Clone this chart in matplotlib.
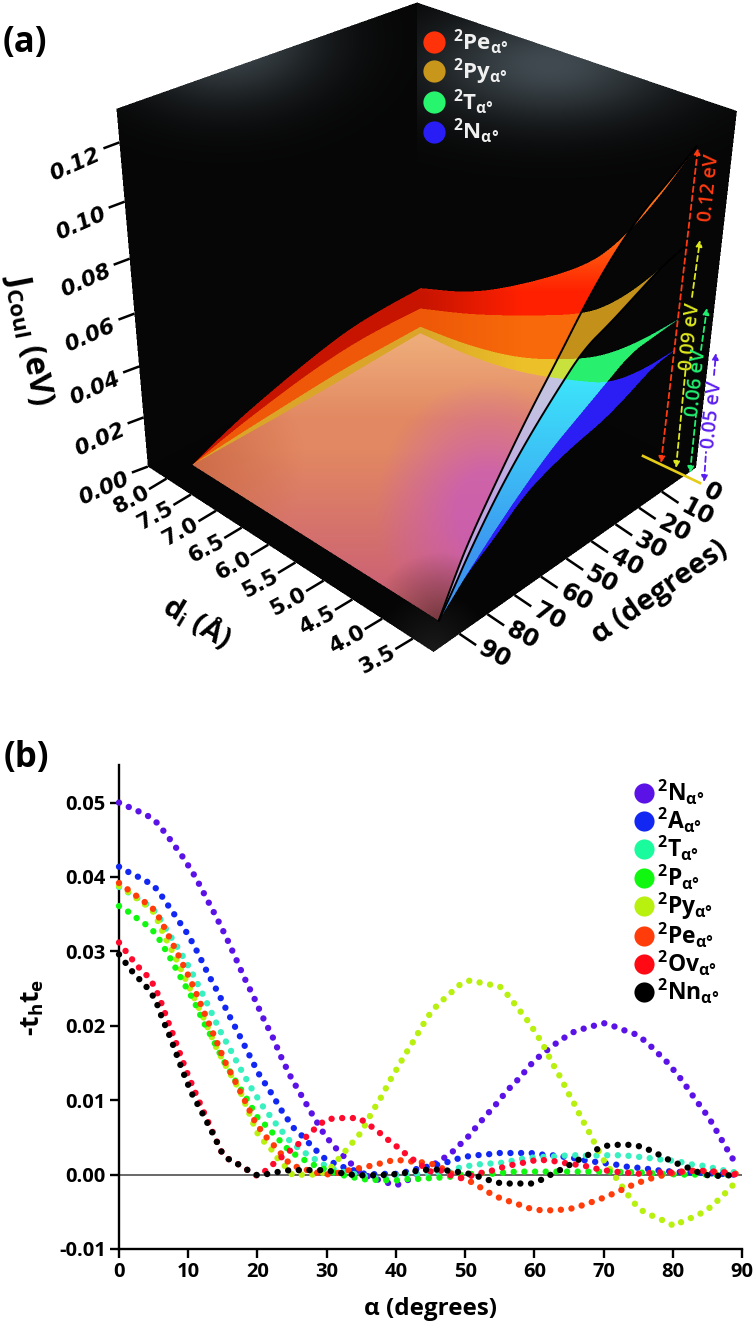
import numpy as np
import matplotlib
matplotlib.use("Agg")
import matplotlib.pyplot as plt
from matplotlib.lines import Line2D
from matplotlib.path import Path

plt.rcParams["font.family"] = ["Open Sans", "DejaVu Sans"]
plt.rcParams["mathtext.fontset"] = "custom"
plt.rcParams["mathtext.rm"] = "Open Sans"
plt.rcParams["mathtext.bf"] = "Open Sans:bold"
plt.rcParams["mathtext.it"] = "Open Sans:italic"
plt.rcParams["mathtext.fallback"] = "stixsans"

W, H = 756, 1323

# panel (a): J_Coul surface edges, eV
a_d8 = [90, 75, 60, 45, 30, 15, 0]
pe_d8 = [0, .0075, .013, .018, .022, .0235, .024]
py_d8 = [0, .005, .009, .0125, .0148, .0155, .0152]
t_d8 = [0, .002, .0036, .0052, .0065, .0068, .0072]
n_d8 = [0, .0005, .001, .0018, .0025, .0035, .0044]

d_a0 = [8, 7, 6, 5, 4.5, 4, 3.5]
pe_a0 = [.024, .032, .046, .063, .077, .096, .119]
py_a0 = [.0152, .023, .033, .044, .054, .068, .085]
t_a0 = [.0072, .0095, .015, .026, .034, .045, .058]
n_a0 = [.0044, .005, .009, .017, .022, .0326, .0465]

a_d35 = [0, 10, 20, 30, 40, 50, 60, 70, 80, 85, 90]
pe_d35 = [.119, .112, .106, .097, .085, .070, .056, .040, .023, .012, 0]
py_d35 = [.085, .082, .077, .072, .068, .058, .047, .034, .018, .0085, 0]
t_d35 = [.058, .057, .056, .050, .044, .038, .030, .021, .011, .0055, 0]
n_d35 = [.0465, .045, .040, .036, .034, .031, .0267, .018, .011, .0055, 0]

j_ticks = [0.00, 0.02, 0.04, 0.06, 0.08, 0.10, 0.12]
d_ticks = [8.0, 7.5, 7.0, 6.5, 6.0, 5.5, 5.0, 4.5, 4.0, 3.5]
a_ticks = [0, 10, 20, 30, 40, 50, 60, 70, 80, 90]

# panel (b): -t_h t_e against alpha
b_names = ["N", "A", "T", "P", "Py", "Pe", "Ov", "Nn"]
b_colors = ["#5a12e6", "#1228f2", "#38f0c0", "#10f810", "#b8f010", "#ff3c0a", "#ff0a2c", "#000000"]

n_x = [0, 3, 4.4, 5.6, 7.5, 9.4, 11.1, 12.6, 14.1, 15.5, 16.8, 18.1, 19.5, 20.8, 22.2, 23.5, 24.9, 26.5, 28.1, 29.8, 31.8, 33, 34, 35.3, 38.7, 40.1, 41.6, 44, 46.9, 48.2, 49.4, 50.6, 51.6, 52.6, 53.7, 54.8, 55.8, 56.9, 58, 59, 60.1, 61.4, 62.7, 64, 65.5, 67, 68.5, 70.1, 71.6, 73.1, 74.6, 75.8, 77, 78.2, 79.3, 81.4, 83.2, 85.2, 86.8, 88.4, 89.3]
n_y = [.05, .04875, .0481, .0472, .0449, .04245, .0399, .0372, .03455, .0319, .0292, .02647, .0238, .0211, .01848, .01565, .01296, .0104, .0078, .0052, .00305, .002, .001, 0, -.00108, -.00143, -.0008, .0005, .0022, .0031, .00417, .00525, .0064, .0075, .00865, .0098, .011, .0121, .0131, .0143, .0154, .0164, .01735, .0182, .0191, .01958, .01998, .02034, .0199, .01936, .01887, .0181, .0171, .016, .015, .0126, .0102, .00767, .0051, .0025, .00125]

a_x = [0, 1.5, 2.9, 4.3, 5.5, 6.4, 7.3, 8.2, 9.1, 10, 11.5, 12.9, 14.4, 15.8, 17.3, 18.7, 20.1, 21.9, 23.5, 25.2, 26.4, 27.5, 28.6, 29.8, 31.3, 32.7, 34.2, 35.8, 37.5, 39, 40.5, 42.3, 43.7, 45.3, 46.9, 48.4, 50, 51.6, 53.1, 54.7, 56.3, 57.9, 59.5, 61, 62.6, 64.2, 65.8, 67.4, 68.9, 70.5, 72.1, 73.7, 75.3, 76.9, 78.5, 80.2, 81.8, 85, 86.8, 89]
a_y = [.04138, .0406, .03996, .03924, .03835, .03714, .0359, .03469, .03344, .03223, .0296, .0269, .02429, .0216, .0189, .0163, .01368, .0111, .0086, .0063, .00525, .00417, .00314, .0021, .00143, .0009, .0005, 0, .0001, .0001, .0001, .0006, .0009, .0012, .0015, .002, .0024, .0026, .0027, .0029, .0029, .0029, .0029, .0027, .0026, .0024, .0022, .0019, .0017, .0015, .0013, .001, .0009, .0007, .0005, .0004, .0003, .0002, .0001, 0]

t_x = [0, 1.4, 2.8, 4.1, 5.4, 7, 8.7, 10.3, 11.7, 13.1, 14.5, 16, 17.5, 19.1, 20.8, 22.7, 24.7, 26, 27.3, 28.7, 30, 31.5, 33.1, 34.6, 36, 37.5, 38.9, 40.3, 44, 48, 49.3, 50.7, 52.2, 53.8, 55.4, 57, 58.6, 60, 61.7, 63.3, 64.9, 66.5, 68, 69.6, 71.2, 72.8, 74.4, 76, 77.5, 80.7, 82.4, 84, 85.6, 87.2, 89]
t_y = [.03866, .0379, .0371, .03625, .0352, .0327, .0302, .0276, .025, .0223, .0195, .01695, .0143, .01166, .00915, .0068, .0045, .0035, .00265, .00184, .0011, .0006, .0002, 0, -.0003, -.0005, -.0005, 0, .0001, .0004, .001, .0012, .0014, .0015, .0016, .0019, .0022, .0023, .0024, .00245, .0026, .0026, .0025, .0026, .0026, .0026, .00245, .0023, .0021, .0018, .0014, .00125, .00094, .0006, .0003]

p_x = [0, 1.4, 2.7, 4, 5.2, 6.1, 7.7, 9.2, 10.8, 12.1, 13.6, 15.1, 16.8, 18.4, 20, 21.2, 22.3, 23.4, 24.5, 25.9, 27.3, 28.8, 30.2, 31.9, 33.5, 35, 36.6, 39.9, 41.5, 43, 44.6, 46.3, 47.8, 49.4, 52.6, 54.2, 55.8, 57.4, 59, 62.2, 65.4, 70.2, 74.9, 78.1, 81.3, 86, 89]
p_y = [.0361, .0353, .03438, .03353, .0325, .0312, .0286, .026, .0234, .0207, .0181, .0153, .01265, .01027, .0077, .0066, .0055, .0044, .0033, .0024, .0017, .001, .0006, 0, -.0003, -.0006, -.0007, -.0008, -.0006, -.0006, -.0005, -.0004, -.0003, 0, .0002, .0001, .0003, .0004, .0004, .0004, .0004, .0004, .0003, .0001, 0, 0, 0]

py_x = [0, 1.3, 2.6, 3.9, 5.1, 6.5, 8, 9.5, 11, 12.5, 14, 15.5, 17.5, 18.7, 19.9, 20.9, 22, 22.9, 24, 25.1, 26.6, 28.2, 29.8, 30.9, 31.9, 33, 34, 35, 36.5, 37.4, 38.2, 38.9, 39.7, 40.5, 41.3, 42.2, 43, 43.8, 44.6, 45.5, 46.7, 47.9, 49, 50.7, 52.2, 53.8, 55, 56.1, 57.1, 58.1, 59.1, 60.1, 60.9, 61.7, 62.4, 63.2, 64, 64.7, 65.5, 66.2, 66.9, 67.7, 68.4, 69.1, 69.9, 70.8, 71.7, 72.6, 73.5, 74.5, 75.8, 77.2, 78.7, 80.2, 81.6, 83, 84.5, 85.7, 86.8, 88, 89.1]
py_y = [.0388, .038, .0371, .0362, .0352, .0322, .0295, .0265, .0235, .0205, .0172, .0145, .0112, .0085, .0057, .0045, .0034, .0022, .0011, -.0001, 0, 0, .0003, .0012, .0023, .0035, .0046, .0057, .0083, .0097, .0109, .0123, .0135, .0148, .0161, .0174, .0187, .01996, .0212, .0223, .0234, .0244, .0254, .0261, .0258, .0255, .0253, .0242, .023, .0218, .0206, .0192, .018, .0167, .0153, .014, .0127, .0113, .01, .0087, .0074, .0061, .0048, .0035, .0021, .0009, -.0003, -.0015, -.0027, -.0039, -.005, -.0056, -.0062, -.0069, -.0062, -.0057, -.005, -.0042, -.0032, -.0021, -.001]

pe_x = [0, 1.3, 2.6, 3.9, 5.2, 6, 7.5, 8.9, 10.3, 11.6, 12.8, 14.1, 15.3, 16.8, 18.2, 19.6, 20.4, 21.4, 22.5, 23.6, 24.6, 26.1, 27.7, 29.2, 30.7, 32.3, 33.8, 35.4, 37, 38.5, 40, 41.7, 43.3, 45, 46.4, 47.9, 49.4, 50.7, 52, 53.4, 54.9, 56.4, 58, 59.5, 61, 62.6, 64.2, 65.8, 67.3, 68.9, 70.3, 71.8, 73.2, 74.7, 76.2, 77.7, 79.4, 80.9, 82.5, 84.1, 85.7, 87.3, 89.2]
pe_y = [.0392, .0383, .0374, .0365, .0355, .0342, .0315, .0289, .0262, .0234, .0207, .0179, .0152, .0125, .0099, .0072, .0061, .0049, .0038, .0026, .0015, .00085, .0005, .0001, 0, .0004, .0007, .001, .0013, .0017, .002, .0018, .0017, .0015, .001, .0002, -.0004, -.0009, -.0016, -.0024, -.0031, -.0036, -.0041, -.0046, -.0048, -.0048, -.0047, -.0045, -.004, -.0035, -.003, -.0024, -.0018, -.0012, -.0007, -.0003, .0001, .0003, .0005, .0005, .0004, .0003, .0001]

ov_x = [0, 1, 2, 3, 4.2, 5.2, 5.8, 6.4, 6.9, 7.5, 8.6, 9.7, 10.9, 12.2, 13.5, 14.8, 15.8, 17.2, 18.6, 20, 21.3, 22.5, 23.7, 25.1, 26.3, 27.5, 28.7, 29.9, 31.5, 33.1, 34.7, 35.9, 37.2, 38.4, 39.7, 41, 42.2, 43.5, 44.8, 46.4, 47.9, 49.5, 51.1, 52.6, 54.2, 55.8, 57.3, 59, 60.5, 62.1, 63.7, 65.2, 66.8, 68.4, 70, 71.5, 73, 74.7, 76.3, 77.9, 79.5, 81.1, 82.7, 84.2, 86, 87.5, 89]
ov_y = [.0312, .03, .0288, .0277, .0266, .0252, .0238, .0224, .021, .0196, .0168, .014, .0113, .0085, .0058, .0031, .0021, .0014, .0006, -.0002, .0006, .0016, .0025, .0035, .0044, .0055, .0065, .0074, .0076, .0076, .0076, .0068, .006, .005, .0041, .0031, .0022, .0014, .0004, .0006, -.0001, -.0005, -.0001, .0003, .0006, .0011, .0014, .0017, .002, .0019, .0017, .0014, .0013, .0009, .0006, .0004, .0003, .0001, .0002, .0003, .0003, .0004, .0005, .0005, .0004, .0003, 0]

nn_x = [0, 1, 2, 3.1, 4.2, 5.2, 5.8, 6.3, 7, 8.1, 9.2, 10.4, 11.9, 13.4, 14.8, 15.8, 17.2, 18.6, 20, 21.6, 23.2, 24.7, 26.4, 27.9, 29.5, 31.1, 32.7, 34.3, 35.9, 37.5, 39, 40.6, 42.3, 43.8, 45.4, 47, 48.6, 50.2, 51.7, 53.3, 54.8, 56.4, 58, 59.6, 61, 62.4, 63.9, 65.3, 66.6, 68.1, 69.4, 71, 72.6, 74.2, 75.7, 77.1, 78.6, 80, 81.5, 83, 84.4, 86, 87.6, 89.2]
nn_y = [.0296, .0284, .0272, .0261, .025, .0236, .0222, .0208, .0194, .0167, .0139, .0111, .0085, .0058, .0031, .0021, .0014, .0006, -.0001, .0001, .0004, .0006, .0006, .0006, .0006, .0004, .0001, -.0001, -.0001, -.0001, 0, .0001, .0004, .0006, .0007, .0006, .0004, .0002, -.0002, -.0007, -.0011, -.0012, -.0012, -.0012, -.0007, 0, .0007, .0014, .0021, .0028, .0036, .004, .004, .004, .0037, .0031, .0024, .0017, .0012, .0006, 0, -.0002, -.0001, -.0001]

b_series = [(n_x, n_y), (a_x, a_y), (t_x, t_y), (p_x, p_y), (py_x, py_y), (pe_x, pe_y), (ov_x, ov_y), (nn_x, nn_y)]
b_order = [0, 1, 2, 4, 3, 5, 6, 7]

# box geometry of the (a) panel: world (d, alpha, J) -> picture pixels
D_L, D_F, A_F, A_R, J_T = 8.39, 3.17, 99.0, -5.5, 0.131
calib = [(D_L, A_F, J_T, 116.7, 110), (D_F, A_R, J_T, 737.3, 110.7), (D_L, A_R, J_T, 416.7, 2.7),
         (D_F, A_F, 0, 433.3, 650), (D_L, A_F, 0, 148, 464), (D_F, A_R, 0, 697, 468)]
calib += [(d, A_F, 0, x, y) for d, x, y in zip(d_ticks, [166.7, 190.7, 216, 241.7, 268.3, 295, 323.3, 352.3, 382.3, 412.7],
                                               [479, 495, 511, 528, 545.7, 563.3, 581.7, 600.7, 620, 640])]
calib += [(D_F, a, 0, x, y) for a, x, y in zip(a_ticks[1:], [661.7, 638.3, 615, 590, 566.7, 541.7, 515, 488.3, 459.3],
                                               [491.7, 508.3, 524.3, 541.7, 558.3, 575, 594, 613.3, 632.7])]
calib += [(D_L, A_F, j, x, y) for j, x, y in zip(j_ticks[1:], [144.3, 139.3, 134.3, 129.3, 125, 119],
                                                 [416.7, 366.7, 314, 258, 201, 142])]
rows, rhs = [], []
for d, a, j, x, y in calib:
    v = [d, a / 10, j * 50, 1]
    rows.append(v + [0, 0, 0, 0] + [-x * c for c in v[:3]])
    rows.append([0, 0, 0, 0] + v + [-y * c for c in v[:3]])
    rhs += [x, y]
cam = np.linalg.lstsq(np.array(rows), np.array(rhs), rcond=None)[0]
cam = np.append(cam, 1).reshape(3, 4)


def proj(d, a, j):
    d, a, j = np.broadcast_arrays(np.asarray(d, float), np.asarray(a, float), np.asarray(j, float))
    v = np.stack([d, a / 10, j * 50, np.ones_like(d)])
    u = cam @ v.reshape(4, -1)
    return u[0] / u[2], u[1] / u[2]


def chaikin(x, y, n=3):
    p = np.column_stack([x, y])
    for _ in range(n):
        q = 0.75 * p[:-1] + 0.25 * p[1:]
        r = 0.25 * p[:-1] + 0.75 * p[1:]
        m = np.empty((2 * len(q), 2))
        m[0::2], m[1::2] = q, r
        p = np.vstack([p[:1], m, p[-1:]])
    return p


def outline(d8, a0, d35):
    e1 = chaikin(*proj(8, a_d8, d8))
    e2 = chaikin(*proj(d_a0, 0, a0))
    e3 = chaikin(*proj(3.5, a_d35, d35))
    return np.vstack([e1, e2, e3])


def mix(c0, c1, t):
    t = np.clip(t, 0, 1)[..., None]
    return np.array(c0, float) * (1 - t) + np.array(c1, float) * t


SS = 2
RH = 680
xs = (np.arange(W * SS) + .5) / SS
ys = (np.arange(RH * SS) + .5) / SS
gx, gy = np.meshgrid(xs, ys)
pts = np.column_stack([gx.ravel(), gy.ravel()])


def inside(poly):
    return Path(poly).contains_points(pts).reshape(gx.shape)


corner = lambda d, a, j: np.array(proj(d, a, j)).ravel()
box = np.array([corner(D_L, A_F, J_T), corner(D_L, A_R, J_T), corner(D_F, A_R, J_T), corner(D_F, A_R, 0),
                corner(D_F, A_F, 0), corner(D_L, A_F, 0)])
floor = np.array([corner(D_L, A_F, 0), corner(D_F, A_F, 0), corner(D_F, A_R, 0), corner(D_L, A_R, 0)])
back_x = corner(D_L, A_R, J_T)[0]

img = np.full(gx.shape + (3,), 255.0)
m_box = inside(box)
wall = np.full(gx.shape + (3,), 6.0)
gl = np.exp(-((gx - 225) / 95) ** 2 - ((gy - 40) / 60) ** 2) * (gx < back_x)
gr = np.exp(-((gx - 550) / 125) ** 2 - ((gy - 65) / 55) ** 2) * (gx >= back_x)
wall += (gl + gr)[..., None] * np.array([58, 68, 74])
m_floor = inside(floor)
wall[m_floor] = mix((5, 5, 6), (26, 26, 26), 1 - np.hypot(gx - 433, gy - 650) / 60)[m_floor]
img[m_box] = wall[m_box]

m_pe = inside(outline(pe_d8, pe_a0, pe_d35))
m_py = inside(outline(py_d8, py_a0, py_d35))
m_t = inside(outline(t_d8, t_a0, t_d35))
m_n = inside(outline(n_d8, n_a0, n_d35))
code = m_pe * 8 + m_py * 4 + m_t * 2 + m_n

left = (gx - 421) / 100
base = {1: (42, 30, 245), 5: (150, 120, 180), 6: (200, 225, 60), 9: (220, 80, 140), 10: (240, 160, 40), 11: (235, 150, 160), 13: (235, 110, 110)}
for k, c in base.items():
    img[code == k] = c
shade = {
    2: mix((40, 240, 110), (40, 190, 150), (335 - gy) / 20),
    3: mix((60, 225, 250), (60, 150, 240), (gy - 385) / 170),
    4: mix((195, 145, 25), (232, 232, 20), (278 - gy) / 25),
    7: mix((195, 195, 225), (190, 165, 225), (gy - 400) / 100),
    8: mix(mix((198, 20, 0), (255, 32, 0), left), (255, 112, 20), (292 - gy) / 60),
    12: mix((238, 88, 8), (247, 105, 10), left),
    14: mix((218, 165, 40), (236, 192, 40), left),
}
for k, c in shade.items():
    img[code == k] = c[code == k]
peach = mix((226, 136, 98), (238, 172, 122), (420 - gy) / 80)
peach = mix(peach, (205, 100, 115), (gy - 450) / 130)
peach = mix(peach, (206, 108, 72), 1 - np.hypot(gx - 195, gy - 465) / 110)
peach = mix(peach, (200, 88, 195), 0.72 * np.clip(1.4 * (1 - np.hypot((gx - 488) / 112, (gy - 510) / 130)), 0, 1))
peach = mix(peach, (115, 55, 62), 1 - np.hypot(gx - 440, gy - 622) / 70)
img[code == 15] = peach[code == 15]

img = img.reshape(RH, SS, W, SS, 3).mean(axis=(1, 3)) / 255

fig = plt.figure(figsize=(W / 100, H / 100), dpi=100)
ov = fig.add_axes([0, 0, 1, 1])
ov.imshow(img, extent=(0, W, RH, 0), aspect="auto", interpolation="nearest", zorder=0)
ov.set_xlim(0, W)
ov.set_ylim(H, 0)
ov.axis("off")

for vals in (pe_d35, py_d35):
    p = chaikin(*proj(3.5, a_d35, vals))
    ov.plot(p[:, 0], p[:, 1], color="black", lw=1.4, solid_capstyle="round", zorder=2)

# yellow baseline and dashed energy arrows
ov.plot([643, 700], [456, 483], color="#e4cc18", lw=1.9, zorder=3)
ARROWS = [("#ff3a10", [(661, 463, 698, 148)], "0.12 eV", 710, 188, 84),
          ("#dde81e", [(676, 468, 686, 365), (692, 297, 700, 240)], "0.09 eV", 691, 337, 84),
          ("#20f070", [(690, 473, 696, 415), (701, 350, 707, 308)], "0.06 eV", 697, 383, 84),
          ("#5a1ef0", [(704, 482, 706, 452), (714, 375, 716, 353)], "0.05 eV", 713, 415, 84)]
for col, segs, lab, lx, ly, rot in ARROWS:
    for i, (x0, y0, x1, y1) in enumerate(segs):
        style = "<|-|>" if len(segs) == 1 else ("<|-" if i == 0 else "-|>")
        ov.annotate("", xy=(x1, y1), xytext=(x0, y0), zorder=4,
                    arrowprops=dict(arrowstyle=style, color=col, ls=(0, (3, 2)), lw=1.3, mutation_scale=9, shrinkA=0, shrinkB=0))
    ov.text(lx, ly, lab, color=col, fontsize=14, rotation=rot, ha="center", va="center", zorder=5, fontweight="semibold")

# ticks of the box
TICK = {"family": "DejaVu Sans", "fontweight": "bold", "ha": "center", "va": "center"}
for j in j_ticks:
    x, y = proj(D_L, A_F, j)
    ov.plot([x[0], x[0] - 16], [y[0], y[0] + 6], color="black", lw=1.8, solid_capstyle="butt")
    ov.text(x[0] - 44, y[0] + 22, f"{j:.2f}", fontsize=15.5, style="italic", rotation=24, **TICK)
for d in d_ticks:
    x, y = proj(d, A_F, 0)
    ov.plot([x[0], x[0] - 17.5], [y[0], y[0] + 10.5], color="black", lw=1.8, solid_capstyle="butt")
    ov.text(x[0] - 35, y[0] + 21, f"{d:.1f}", fontsize=15.5, rotation=28, **TICK)
for a in a_ticks[1:]:
    x, y = proj(D_F, a, 0)
    ov.plot([x[0], x[0] + 16.7], [y[0], y[0] + 11.3], color="black", lw=1.8, solid_capstyle="butt")
    ov.text(x[0] + 35, y[0] + 21, f"{a}", fontsize=17, rotation=-28, **TICK)
x, y = proj(D_F, 0, 0)
ov.text(x[0] + 28, y[0] + 17, "0", fontsize=17, rotation=-28, **TICK)

ov.text(28, 340, r"$\mathbf{J}_{\mathbf{Coul}}$ (eV)", fontsize=23, fontweight="bold", rotation=-79, ha="center", va="center")
ov.text(197, 622, r"$\mathbf{d_i}$ (Å)", fontsize=21, fontweight="bold", rotation=-31, ha="center", va="center")
ov.text(660, 592, "α (degrees)", fontsize=21, fontweight="bold", rotation=35, ha="center", va="center")
ov.text(25, 43, "(a)", fontsize=25, fontweight="bold", ha="center", va="center")
ov.text(26, 758, "(b)", fontsize=25, fontweight="bold", ha="center", va="center")


def label(name):
    return r"$\mathbf{^{2}" + name + r"_{\alpha°}}$"


h_a = [Line2D([], [], ls="", marker="o", ms=16, mew=0, color=c, label=label(n))
       for n, c in zip(["Pe", "Py", "T", "N"], ["#ff320a", "#c8961a", "#28f56e", "#281ef5"])]
ov.legend(handles=h_a, loc="upper left", bbox_to_anchor=(423 / W, 1 - 27 / H), bbox_transform=fig.transFigure, frameon=False,
          prop={"size": 16, "weight": "bold"}, labelcolor="#f0f0f0", labelspacing=0.0, handletextpad=0.35, handlelength=1.0, borderpad=0, borderaxespad=0)

# panel (b)
ax = fig.add_axes([119 / W, 1 - 1249 / H, 623 / W, 484 / H], facecolor="none")
ax.axhline(0, color="#404040", lw=1.1, zorder=1)
for z, i in enumerate(b_order):
    xv, yv = b_series[i]
    ax.plot(xv, yv, color=b_colors[i], lw=4.6, ls=(0, (0.01, 1.66)), dash_capstyle="round", clip_on=False, zorder=3 + z)
ax.set_xlim(0, 90)
ax.set_ylim(-0.01, -0.01 + 484 / 7440)
ax.set_xticks(range(0, 91, 10))
ax.set_yticks([-0.01, 0, 0.01, 0.02, 0.03, 0.04, 0.05])
ax.set_yticklabels(["-0.01", "0.00", "0.01", "0.02", "0.03", "0.04", "0.05"])
ax.tick_params(width=1.7, length=6.5, labelsize=14.5, pad=3)
for t in ax.get_xticklabels() + ax.get_yticklabels():
    t.set_fontweight("bold")
for s in ("top", "right"):
    ax.spines[s].set_visible(False)
for s in ("left", "bottom"):
    ax.spines[s].set_linewidth(1.7)
ax.set_xlabel("α (degrees)", fontsize=17.5, fontweight="bold", labelpad=11)
ax.set_ylabel(r"-$\mathbf{t_h t_e}$", fontsize=19, fontweight="bold", labelpad=9)
h_b = [Line2D([], [], ls="", marker="o", ms=14.5, mew=0, color=c, label=label(n))
       for n, c in zip(b_names, ["#5a12e6", "#1228f2", "#19fb9c", "#10f810", "#b8f010", "#ff3c0a", "#ff0a14", "#000000"])]
ax.legend(handles=h_b, loc="upper left", bbox_to_anchor=(632.5 / W, 1 - 778 / H), bbox_transform=fig.transFigure, frameon=False,
          prop={"size": 16.5, "weight": "bold"}, labelspacing=-0.04, handletextpad=0.05, handlelength=1.0, borderpad=0, borderaxespad=0)

fig.savefig("out.png", dpi=100)
